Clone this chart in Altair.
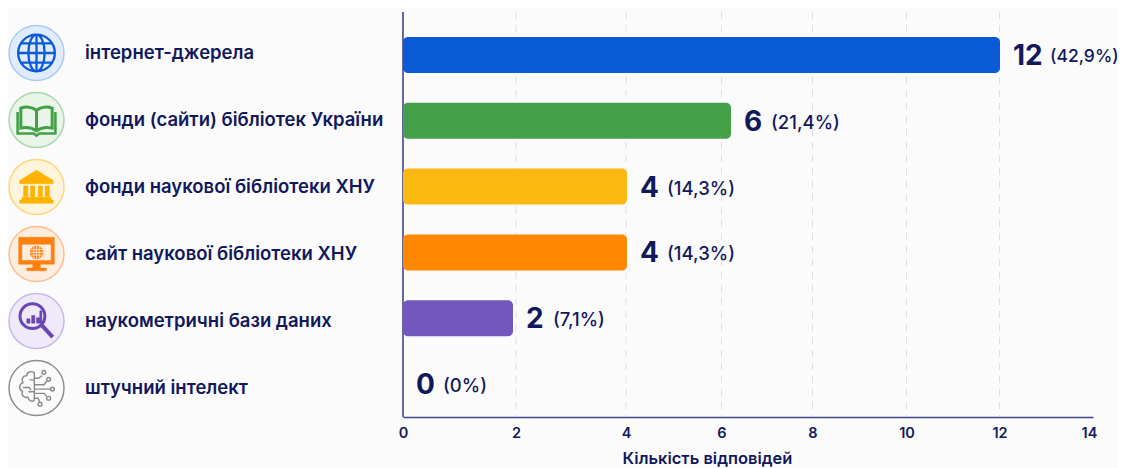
import altair as alt
import pandas as pd

FONT = "Inter"
NAVY = "#11195C"
AXIS = "#3F4390"
GRID = "#DEDEE6"
BG = "#FBFBFC"

categories = ["інтернет-джерела", "фонди (сайти) бібліотек України", "фонди наукової бібліотеки ХНУ",
              "сайт наукової бібліотеки ХНУ", "наукометричні бази даних", "штучний інтелект"]
values = [12, 6, 4, 4, 2, 0]
percents = ["(42,9%)", "(21,4%)", "(14,3%)", "(14,3%)", "(7,1%)", "(0%)"]
bar_colors = ["#0B5AD6", "#43A047", "#FBB811", "#FF8800", "#7257BF", "#FFFFFF"]
halo_fill = ["#E0ECFB", "#EAF5EA", "#FFF5DC", "#FFEEDF", "#EFE9FA", "#FBFBFB"]
halo_stroke = ["#A9CBF6", "#A8D8AA", "#FFD67A", "#FFBE8C", "#C9B7EC", "#8F8F8F"]
ticks = [0, 2, 4, 6, 8, 10, 12, 14]
grid_ticks = [2, 4, 6, 8, 10, 12]

# The source chart's axis is not evenly spaced, so both scales are piecewise.
axis_domain = [0, 2, 4, 6, 8, 10, 12, 14, 14.1]
axis_range = [0, 113, 223, 318.5, 409.5, 503.5, 596.5, 686, 690]
bar_domain = [0, 2, 4, 6, 12, 14]
bar_range = [0, 110, 224, 328, 597, 690]

icon_parts = [
    (0, "M-.68 0A.68 .68 0 1 1 .68 0A.68 .68 0 1 1 -.68 0ZM0 -.68A.3 .68 0 0 1 0 .68A.3 .68 0 0 1 0 -.68ZM0 -.68V.68M-.68 0H.68M-.58 -.36H.58M-.58 .36H.58", "transparent", "#0B5AD6", 2.3),
    (1, "M0 -.36C-.18 -.5 -.42 -.5 -.58 -.44V.3C-.4 .26 -.16 .28 0 .4C.16 .28 .4 .26 .58 .3V-.44C.42 -.5 .18 -.5 0 -.36ZM0 -.36V.4", "transparent", "#43A047", 3),
    (1, "M-.7 -.3V.5H-.1L0 .58L.1 .5H.7V-.3", "transparent", "#43A047", 2.6),
    (2, "M0 -.62L.62 -.24V-.12H-.62V-.24ZM-.48 -.04H-.32V.36H-.48ZM-.22 -.04H-.06V.36H-.22ZM.06 -.04H.22V.36H.06ZM.32 -.04H.48V.36H.32ZM-.54 .38H.54V.48H-.54ZM-.62 .48H.62V.6H-.62Z", "#FFB300", "#FFB300", 0.5),
    (3, "M-.66 -.62H.66V.38H-.66ZM-.54 -.36V.24H.54V-.36ZM-.14 .38H.14V.52H.36V.62H-.36V.52H-.14Z", "#FF7F11", "#FF7F11", 0.5),
    (3, "M-.24 -.06A.24 .24 0 1 1 .24 -.06A.24 .24 0 1 1 -.24 -.06Z", "#FF7F11", "#FF7F11", 0.5),
    (3, "M-.24 -.06H.24M0 -.3V.18M-.1 -.28V.16M.1 -.28V.16M-.2 -.16H.2M-.2 .04H.2", "transparent", "#FFEEDF", 0.8),
    (4, "M-.61 -.18A.46 .46 0 1 1 .31 -.18A.46 .46 0 1 1 -.61 -.18Z", "transparent", "#6A46B4", 3),
    (4, "M.2 .16L.6 .6", "transparent", "#6A46B4", 4),
    (4, "M-.36 -.08H-.24V.08H-.36ZM-.18 -.2H-.06V.08H-.18ZM0 -.12H.12V.08H0ZM.12 -.38H.2V.08H.12Z", "#6A46B4", "#6A46B4", 0.5),
    (5, "M-.08 -.56C-.2 -.66 -.36 -.58 -.36 -.46C-.52 -.46 -.58 -.3 -.5 -.2C-.66 -.14 -.66 .06 -.52 .12C-.58 .28 -.44 .38 -.32 .34C-.3 .48 -.14 .54 -.08 .44ZM-.08 -.3H-.26M-.08 .14H-.3M-.5 -.02H-.28L-.2 .08", "transparent", "#8A8A8A", 1.4),
    (5, "M-.08 -.36H.08L.2 -.46M-.08 -.12H.28L.38 -.26M-.08 .04H.5M-.08 .2H.28L.38 .32M-.08 .38H.06L.12 .52", "transparent", "#8A8A8A", 1.4),
    (5, "M.2 -.58A.07 .07 0 1 1 .34 -.58A.07 .07 0 1 1 .2 -.58ZM.38 -.32A.07 .07 0 1 1 .52 -.32A.07 .07 0 1 1 .38 -.32ZM.52 .04A.07 .07 0 1 1 .66 .04A.07 .07 0 1 1 .52 .04ZM.38 .38A.07 .07 0 1 1 .52 .38A.07 .07 0 1 1 .38 .38ZM.06 .6A.07 .07 0 1 1 .2 .6A.07 .07 0 1 1 .06 .6Z", "transparent", "#8A8A8A", 1.4),
]

df = pd.DataFrame({
    "cat": categories, "value": values, "pct": percents, "color": bar_colors,
    "hfill": halo_fill, "hstroke": halo_stroke,
    "num": [str(v) for v in values], "wide": [v >= 10 for v in values],
})
icons = pd.DataFrame(
    [{"cat": categories[i], "path": p, "fill": f, "stroke": s, "sw": w} for i, p, f, s, w in icon_parts]
)
tick_df = pd.DataFrame({"t": grid_ticks})


def point_y(lo, hi):
    return alt.Y("cat:N", axis=None, scale=alt.Scale(type="point", domain=categories, range=[lo, hi], padding=0))


axis_scale = alt.Scale(domain=axis_domain, range=axis_range, zero=False, nice=False)
bar_scale = alt.Scale(domain=bar_domain, range=bar_range, zero=False, nice=False)
bar_y = point_y(43, 372)
left_y = point_y(41, 376)
label_y = point_y(41, 376)
bar_x = alt.X("value:Q", scale=bar_scale, axis=None, stack=None)

grid = alt.Chart(tick_df).mark_rule(stroke=GRID, strokeWidth=1, strokeDash=[7, 6]).encode(
    x=alt.X("t:Q", scale=axis_scale, title="Кількість відповідей", axis=alt.Axis(
        values=ticks, grid=False, ticks=False, domain=True, domainColor=AXIS, domainWidth=1.6,
        labelFont=FONT, labelFontSize=14.5, labelFontWeight=600, labelColor=NAVY, labelPadding=9,
        labelFlush=False, labelOverlap=False, format="d",
        titleFont=FONT, titleFontSize=16.5, titleFontWeight=600, titleColor=NAVY,
        titleX=304, titleY=41, titleAnchor="start", titleAlign="center", titleBaseline="middle",
    )),
)
y_line = alt.Chart(df.head(1)).mark_rule(stroke=AXIS, strokeWidth=1.6).encode(
    x=alt.value(0), y=alt.value(0), y2=alt.value(405)
)
bars = alt.Chart(df).mark_bar(cornerRadius=5, size=36).encode(
    x=bar_x, y=bar_y, color=alt.Color("color:N", scale=None)
)
nums = alt.Chart(df).mark_text(font=FONT, fontSize=28, fontWeight=700, color=NAVY, align="left", baseline="middle", dx=13, dy=2).encode(
    x=bar_x, y=bar_y, text="num:N"
)
pct_narrow = alt.Chart(df).transform_filter("!datum.wide").mark_text(
    font=FONT, fontSize=18.5, fontWeight=500, color=NAVY, align="left", baseline="middle", dx=40, dy=2
).encode(x=bar_x, y=bar_y, text="pct:N")
pct_wide = alt.Chart(df).transform_filter("datum.wide").mark_text(
    font=FONT, fontSize=17.5, fontWeight=500, color=NAVY, align="left", baseline="middle", dx=50, dy=2
).encode(x=bar_x, y=bar_y, text="pct:N")

halos = alt.Chart(df).mark_point(filled=True, shape="circle", size=3025, strokeWidth=1.5, opacity=1).encode(
    x=alt.value(-366.5), y=left_y,
    fill=alt.Fill("hfill:N", scale=None), stroke=alt.Stroke("hstroke:N", scale=None),
)
glyphs = alt.Chart(icons).mark_point(size=2916, opacity=1).encode(
    x=alt.value(-366.5), y=left_y,
    shape=alt.Shape("path:N", scale=None),
    fill=alt.Fill("fill:N", scale=None), stroke=alt.Stroke("stroke:N", scale=None),
    strokeWidth=alt.StrokeWidth("sw:Q", scale=None),
)
names = alt.Chart(df).mark_text(font=FONT, fontSize=18.5, fontWeight=600, color=NAVY, align="left", baseline="middle").encode(
    x=alt.value(-318), y=label_y, text="cat:N"
)

chart = alt.layer(grid, y_line, bars, nums, pct_narrow, pct_wide, halos, glyphs, names).resolve_scale(
    x="independent", y="independent"
).properties(
    width=690, height=405, background=BG,
    autosize=alt.AutoSizeParams(type="none"),
    padding={"left": 395, "top": 4, "right": 25, "bottom": 51},
).configure_view(stroke=None)

chart.save("out.html", embed_options={"renderer": "svg", "actions": False})
